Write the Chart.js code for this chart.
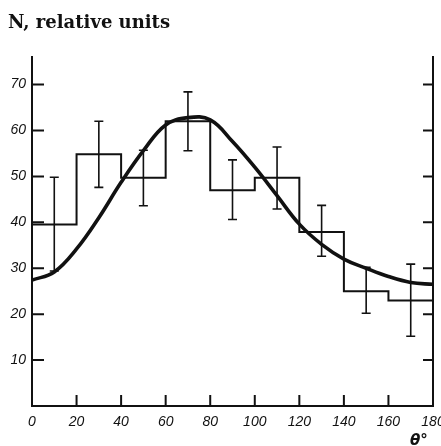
<!DOCTYPE html>
<html>
<head>
<meta charset="utf-8">
<script src="https://cdn.jsdelivr.net/npm/chart.js@4"></script>
<style>
  html, body { margin: 0; padding: 0; background: #fff; }
  #wrap { width: 441px; height: 446px; }
</style>
</head>
<body>
<div id="wrap"><canvas id="myChart" width="441" height="446"></canvas></div>
<script>
// histogram: left edge of each 20-degree bin and its height
var binEdges = [0, 20, 40, 60, 80, 100, 120, 140, 160, 180];
var binValues = [39.5, 54.8, 49.7, 62, 47, 49.7, 37.9, 25, 23, 23];

// error bars at bin centres
var errX = [10, 30, 50, 70, 90, 110, 130, 150, 170];
var errLow = [29.4, 47.6, 43.6, 55.6, 40.6, 42.9, 32.6, 20.2, 15.2];
var errHigh = [49.8, 62, 55.7, 68.4, 53.6, 56.4, 43.7, 30.2, 30.9];

// smooth curve
var curveX = [0, 10, 20, 30, 40, 50, 60, 70, 80, 90, 100, 110, 120, 130, 140, 150, 160, 170, 180];
var curveY = [27.4, 29.2, 34.2, 41, 48.7, 55.6, 61.2, 62.8, 62.3, 57.6, 52, 45.8, 39.6, 35.2, 32, 30, 28.2, 26.9, 26.5];

// tick labels
var xTicks = [0, 20, 40, 60, 80, 100, 120, 140, 160, 180];
var yTicks = [10, 20, 30, 40, 50, 60, 70];

var ink = '#111';

// error bars + inward tick marks + title text
var extras = {
    id: 'extras',
    afterDatasetsDraw: function (chart) {
        const ctx = chart.ctx;
        const xs = chart.scales.x;
        const ys = chart.scales.y;
        const area = chart.chartArea;
        ctx.save();
        ctx.strokeStyle = ink;

        // error bars
        ctx.lineWidth = 1.6;
        errX.forEach(function (x, i) {
            const px = xs.getPixelForValue(x);
            const lo = ys.getPixelForValue(errLow[i]);
            const hi = ys.getPixelForValue(errHigh[i]);
            ctx.beginPath();
            ctx.moveTo(px, lo); ctx.lineTo(px, hi);
            ctx.moveTo(px - 4.5, lo); ctx.lineTo(px + 4.5, lo);
            ctx.moveTo(px - 4.5, hi); ctx.lineTo(px + 4.5, hi);
            ctx.stroke();
        });

        // tick marks pointing into the plot
        ctx.lineWidth = 2;
        ctx.beginPath();
        yTicks.forEach(function (v) {
            const py = ys.getPixelForValue(v);
            ctx.moveTo(area.left, py); ctx.lineTo(area.left + 12, py);
            ctx.moveTo(area.right, py); ctx.lineTo(area.right - 10, py);
        });
        xTicks.slice(1, -1).forEach(function (v) {
            const px = xs.getPixelForValue(v);
            ctx.moveTo(px, area.bottom); ctx.lineTo(px, area.bottom - 11);
        });
        ctx.stroke();

        // titles
        ctx.fillStyle = ink;
        ctx.textBaseline = 'alphabetic';
        ctx.textAlign = 'left';
        ctx.font = 'bold 18px "DejaVu Serif"';
        ctx.fillText('N, relative units', 8, 28);
        ctx.font = 'italic bold 15px "DejaVu Sans"';
        ctx.fillText('θ°', 410, 445);
        ctx.restore();
    }
};

var ctx = document.getElementById('myChart');
var myChart = new Chart(ctx, {
    type: 'line',
    data: {
        datasets: [{
            label: 'histogram',
            data: binEdges.map(function (x, i) { return { x: x, y: binValues[i] }; }),
            stepped: 'before',
            borderColor: ink,
            borderWidth: 2,
            pointRadius: 0,
            fill: false
        }, {
            label: 'fit',
            data: curveX.map(function (x, i) { return { x: x, y: curveY[i] }; }),
            borderColor: ink,
            borderWidth: 3.6,
            tension: 0.4,
            pointRadius: 0,
            fill: false
        }]
    },
    options: {
        responsive: false,
        animation: false,
        layout: { padding: { top: 57, left: 0, right: 0, bottom: 0 } },
        plugins: {
            legend: { display: false },
            tooltip: { enabled: false }
        },
        scales: {
            x: {
                type: 'linear',
                min: 0,
                max: 180,
                afterBuildTicks: function (s) { s.ticks = xTicks.map(function (v) { return { value: v }; }); },
                afterFit: function (s) { s.height = 40; s.paddingLeft = 0; s.paddingRight = 0; },
                grid: { display: false, drawTicks: false },
                border: { display: true, color: ink, width: 2 },
                ticks: {
                    color: ink,
                    padding: 8,
                    maxRotation: 0,
                    font: { family: '"Liberation Sans"', style: 'italic', size: 14 }
                }
            },
            y: {
                min: 0,
                max: 76,
                afterBuildTicks: function (s) { s.ticks = yTicks.map(function (v) { return { value: v }; }); },
                afterFit: function (s) { s.width = 32; s.paddingTop = 0; s.paddingBottom = 0; },
                grid: { display: false, drawTicks: false },
                border: { display: true, color: ink, width: 2 },
                ticks: {
                    color: ink,
                    padding: 6,
                    font: { family: '"Liberation Sans"', style: 'italic', size: 14 }
                }
            },
            y2: {
                position: 'right',
                min: 0,
                max: 76,
                afterFit: function (s) { s.width = 8; s.paddingTop = 0; s.paddingBottom = 0; },
                grid: { display: false, drawTicks: false },
                border: { display: true, color: ink, width: 2 },
                ticks: { display: false }
            }
        }
    },
    plugins: [extras]
});
</script>
</body>
</html>
